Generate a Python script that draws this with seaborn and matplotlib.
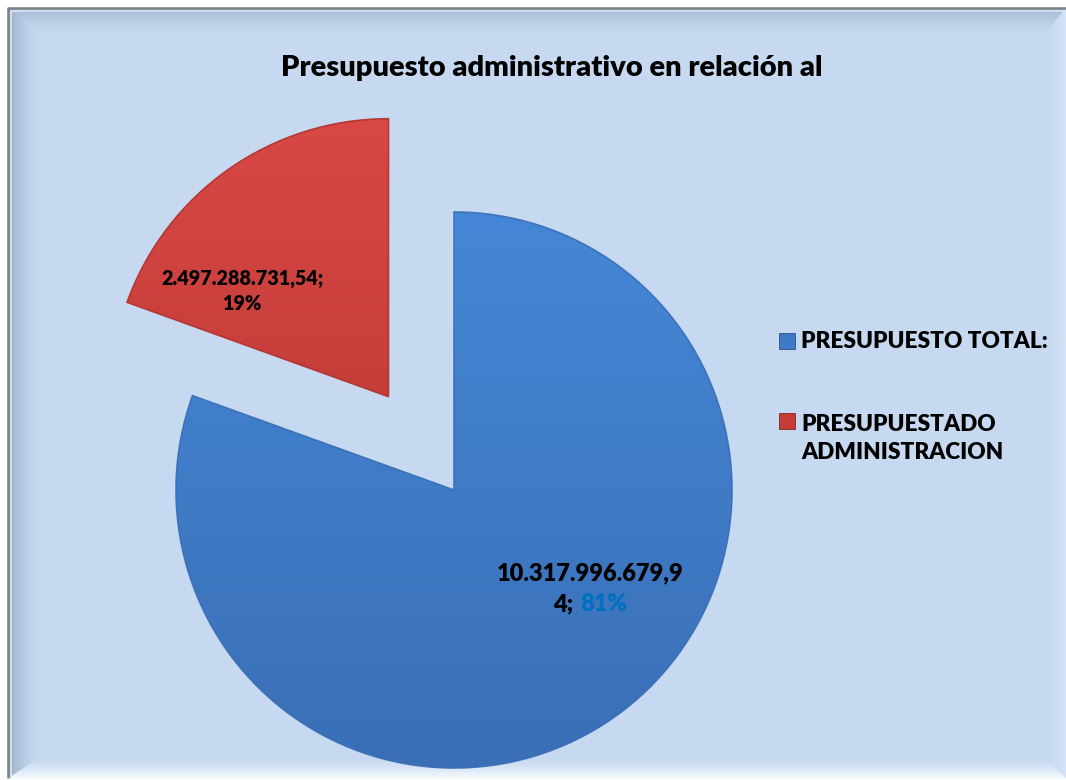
import numpy as np
import matplotlib
matplotlib.use("Agg")
import matplotlib.pyplot as plt
import matplotlib.patches as mpatches
from matplotlib.colors import LinearSegmentedColormap, to_rgb
from matplotlib.offsetbox import TextArea, HPacker, AnnotationBbox
import seaborn as sns

# ---------------- data ----------------
categories = ["PRESUPUESTO TOTAL:", "PRESUPUESTADO\nADMINISTRACION"]
values = [10317996679.94, 2497288731.54]
title = "Presupuesto administrativo en relación al"
slice_colors = ["#3F7AC6", "#C63D38"]
grad_top = ["#4587D6", "#D84845"]
grad_bot = ["#3A6FB6", "#B2332E"]

sns.set_theme(style="white")
plt.rcParams["font.family"] = ["Lato", "DejaVu Sans"]
WEIGHT = "heavy"

W, H = 1066, 780
fig = plt.figure(figsize=(W / 100, H / 100), dpi=100)
fig.patch.set_facecolor("white")

# ---------------- background frame with bevel ----------------
bg = fig.add_axes([0, 0, 1, 1], zorder=0)
bg.set_xlim(0, W)
bg.set_ylim(H, 0)
bg.axis("off")
L, T, R, B = 8, 8, 1066, 778
wl, wt, wr, wb = 30, 26, 21, 20
bgc = np.array(to_rgb("#C6D9F1"))
bg.add_patch(mpatches.Rectangle((L, T), R - L, B - T, facecolor=bgc, edgecolor="none"))
side_cols = {
    "top": np.array(to_rgb("#A2B6CF")),
    "left": np.array(to_rgb("#9AAFC9")),
    "right": np.array(to_rgb("#D6E6FA")),
    "bottom": np.array(to_rgb("#FAFDFF")),
}
n = 24


def rect_at(t):
    return (L + t * wl, T + t * wt, R - t * wr, B - t * wb)


for i in range(n):
    t0, t1 = i / n, (i + 1) / n
    a0, a1 = rect_at(t0), rect_at(t1)
    f = (1 - (i + 0.5) / n) ** 1.3
    polys = {
        "top": [(a0[0], a0[1]), (a0[2], a0[1]), (a1[2], a1[1]), (a1[0], a1[1])],
        "bottom": [(a0[0], a0[3]), (a0[2], a0[3]), (a1[2], a1[3]), (a1[0], a1[3])],
        "left": [(a0[0], a0[1]), (a1[0], a1[1]), (a1[0], a1[3]), (a0[0], a0[3])],
        "right": [(a0[2], a0[1]), (a1[2], a1[1]), (a1[2], a1[3]), (a0[2], a0[3])],
    }
    for side, pts in polys.items():
        col = bgc + (side_cols[side] - bgc) * f
        bg.add_patch(mpatches.Polygon(pts, closed=True, facecolor=col, edgecolor=col, lw=0.3))
# thin light inner line (top/left) + gray outer line
bg.plot([L + 3, L + 3, R], [B, T + 3, T + 3], color="#D8E6F6", lw=1.2)
bg.plot([L, L, R], [B, T, T], color="#7F8387", lw=1.8, solid_capstyle="butt")

# ---------------- pie ----------------
ax = fig.add_axes([0, 0, 1, 1], zorder=1)
ax.patch.set_visible(False)
total = sum(values)
wedges, _ = ax.pie(values, startangle=90, counterclock=False,
                   explode=[0, 114], radius=278, center=(454, H - 490),
                   colors=slice_colors, frame=True,
                   wedgeprops=dict(edgecolor="none", linewidth=0))
grad = np.linspace(0, 1, 256)[:, None]
for w, ct, cb in zip(wedges, grad_top, grad_bot):
    cx, cy = w.center
    r = w.r
    cmap = LinearSegmentedColormap.from_list("g", [ct, cb])
    im = ax.imshow(grad, cmap=cmap, extent=(cx - r, cx + r, cy - r, cy + r),
                   origin="upper", aspect="auto", zorder=2)
    im.set_clip_path(w)
    ax.add_patch(mpatches.Wedge((cx, cy), r, w.theta1, w.theta2, fill=False,
                                edgecolor=to_rgb(cb), lw=1.2, zorder=3, alpha=0.9))
ax.set_xlim(0, W)
ax.set_ylim(0, H)
ax.axis("off")

# ---------------- texts overlay ----------------
ov = fig.add_axes([0, 0, 1, 1], zorder=2)
ov.set_xlim(0, W)
ov.set_ylim(H, 0)
ov.axis("off")
ov.patch.set_visible(False)


def fmt_es(v):
    s = f"{v:,.2f}"
    return s.replace(",", "X").replace(".", ",").replace("X", ".")


pcts = [round(v / total * 100) for v in values]

ov.text(552, 68, title, ha="center", va="center", fontsize=21, fontweight=WEIGHT,
        color="black")

# red label
ov.text(242, 279, f"{fmt_es(values[1])};", ha="center", va="center", fontsize=14.2,
        fontweight=WEIGHT, color="black")
ov.text(242, 303, f"{pcts[1]}%", ha="center", va="center", fontsize=14.2,
        fontweight=WEIGHT, color="black")

# blue label (wrapped as in the original)
s_blue = fmt_es(values[0])
ov.text(590, 573, s_blue[:-1], ha="center", va="center", fontsize=17,
        fontweight=WEIGHT, color="black")
fp = dict(fontsize=17, fontweight=WEIGHT, family=["Lato", "DejaVu Sans"])
ta1 = TextArea(s_blue[-1] + ";", textprops=dict(color="black", **fp))
ta2 = TextArea(f"{pcts[0]}%", textprops=dict(color="#0070C0", **fp))
hp = HPacker(children=[ta1, ta2], pad=0, sep=5, align="baseline")
ab = AnnotationBbox(hp, (590, 604), xycoords="data", frameon=False,
                    box_alignment=(0.5, 0.5), pad=0)
ov.add_artist(ab)

# legend (manual)
leg_y = [341, 421]
for yy, lab, col in zip(leg_y, categories, slice_colors):
    ov.add_patch(mpatches.Rectangle((779, yy - 8), 16, 16, facecolor=col,
                                    edgecolor="#2B4F80" if col == slice_colors[0] else "#7E2622",
                                    lw=0.6))
    ov.text(801, yy - 7 if "\n" in lab else yy, lab, ha="left",
            va="top" if "\n" in lab else "center",
            fontsize=16.3, fontweight=WEIGHT, color="black", linespacing=1.42)

fig.savefig("out.png", dpi=100, facecolor="white")
